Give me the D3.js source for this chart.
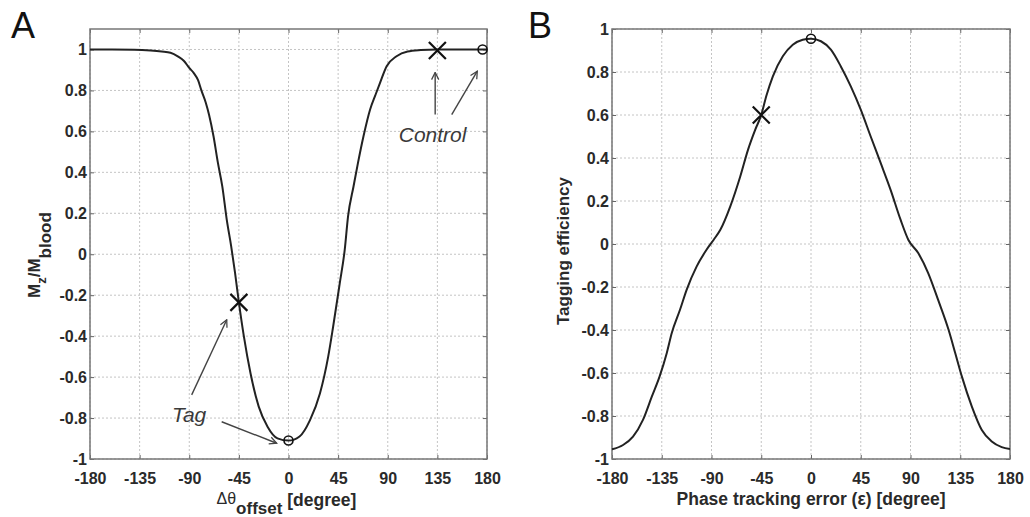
<!DOCTYPE html>
<html>
<head>
<meta charset="utf-8">
<script src="https://cdn.jsdelivr.net/npm/d3@7"></script>
<style>
  html, body { margin: 0; padding: 0; background: #fff; }
  svg { display: block; font-family: "Liberation Sans", Arial, sans-serif; }
</style>
</head>
<body>
<svg id="chart" width="1030" height="517"></svg>
<script>
// ---------- DATA ----------
// Panel A: longitudinal magnetisation vs phase offset
const offsetDeg = [-180,-160,-140,-125,-115,-107,-100,-95,-90,-86,-82,-79,-75,-72,-68,-64,-60,-56,-52,-48.5,-45,-40.5,-34.5,-27,-19,-10,0,10,19.5,28.5,36,40.5,46.5,51,54,59,63,68,74,79,83,89,98,108,120,135,150,165,180];
const mzRatio   = [1.0,1.0,0.999,0.995,0.99,0.984,0.965,0.945,0.91,0.886,0.85,0.80,0.74,0.68,0.576,0.446,0.33,0.169,0.04,-0.09,-0.235,-0.40,-0.58,-0.744,-0.842,-0.899,-0.91,-0.89,-0.81,-0.68,-0.50,-0.353,-0.141,0.022,0.185,0.332,0.446,0.576,0.707,0.78,0.837,0.918,0.967,0.99,0.997,1.0,1.0,1.0,1.0];
const markersA_x = [{x:-45, y:-0.235}, {x:135, y:0.995}];
const markersA_o = [{x:0, y:-0.91}, {x:176, y:1.0}];

// Panel B: tagging efficiency vs phase tracking error
const errorDeg   = [-180,-170,-161,-152,-144,-137,-130.5,-126,-118.5,-112.5,-103.5,-94.5,-88,-82,-73,-64,-57,-50.5,-45,-40.5,-34.5,-25.5,-16.5,-7.5,0,9,18,27,36,45,54,63,72,81,88,97,106,115,124.5,130.5,136.5,145.5,154.5,163.5,172.5,180];
const efficiency = [-0.955,-0.935,-0.896,-0.818,-0.71,-0.617,-0.508,-0.415,-0.306,-0.213,-0.105,-0.027,0.02,0.066,0.175,0.314,0.438,0.531,0.6,0.687,0.78,0.873,0.927,0.95,0.955,0.943,0.904,0.826,0.733,0.625,0.50,0.377,0.252,0.113,0.02,-0.042,-0.135,-0.26,-0.40,-0.508,-0.617,-0.756,-0.865,-0.919,-0.945,-0.953];
const markersB_x = [{x:-45, y:0.6}];
const markersB_o = [{x:0, y:0.955}];

// Tick labels
const xTicks = [-180,-135,-90,-45,0,45,90,135,180];
const yTicks = [-1,-0.8,-0.6,-0.4,-0.2,0,0.2,0.4,0.6,0.8,1];

// Annotations (panel A, data units)
const annotTexts = [{t:"Control", x:100, y:0.55}, {t:"Tag", x:-105.6, y:-0.82}];
const annotArrows = [
  {x1:133, y1:0.682, x2:133, y2:0.888},
  {x1:148, y1:0.682, x2:171.2, y2:0.894},
  {x1:-87.8, y1:-0.687, x2:-56, y2:-0.32},
  {x1:-60.6, y1:-0.818, x2:-10.7, y2:-0.923}
];

// ---------- DRAW ----------
const svg = d3.select("#chart");
const fmt = v => String(v);

svg.append("defs").append("marker")
  .attr("id","arrow").attr("viewBox","0 0 10 10").attr("refX",9).attr("refY",5)
  .attr("markerWidth",9).attr("markerHeight",9).attr("markerUnits","userSpaceOnUse")
  .attr("orient","auto")
  .append("path").attr("d","M1,1 L9,5 L1,9").attr("fill","none")
  .attr("stroke","#444").attr("stroke-width",1.4);

function panel(opts) {
  const x = d3.scaleLinear().domain([-180,180]).range([opts.left, opts.right]);
  const y = d3.scaleLinear().domain(opts.ydom).range([459, 29]);
  const g = svg.append("g");

  // grid
  g.append("g").selectAll("line.gx").data(xTicks).join("line")
    .attr("x1", d=>x(d)).attr("x2", d=>x(d)).attr("y1", y.range()[0]).attr("y2", y.range()[1])
    .attr("stroke","#c4c4c4").attr("stroke-width",1).attr("stroke-dasharray","2,2");
  g.append("g").selectAll("line.gy").data(yTicks).join("line")
    .attr("y1", d=>y(d)).attr("y2", d=>y(d)).attr("x1", x.range()[0]).attr("x2", x.range()[1])
    .attr("stroke","#c4c4c4").attr("stroke-width",1).attr("stroke-dasharray","2,2");

  // axes
  const style = sel => {
    sel.select(".domain").remove();
    sel.selectAll(".tick line").attr("stroke","#666").attr("stroke-width",1);
    sel.selectAll("text").attr("font-size",16).attr("font-weight","bold").attr("fill","#2a2a2a")
      .attr("font-family","Liberation Sans, Arial, sans-serif");
  };
  g.append("g").attr("transform",`translate(0,${y.range()[0]})`)
    .call(d3.axisBottom(x).tickValues(xTicks).tickFormat(fmt).tickSize(-4).tickPadding(13.5)).call(style);
  g.append("g").attr("transform",`translate(0,${y.range()[1]})`)
    .call(d3.axisTop(x).tickValues(xTicks).tickFormat("").tickSize(-4)).call(style);
  g.append("g").attr("transform",`translate(${x.range()[0]},0)`)
    .call(d3.axisLeft(y).tickValues(yTicks).tickFormat(fmt).tickSize(-4).tickPadding(3)).call(style);
  g.append("g").attr("transform",`translate(${x.range()[1]},0)`)
    .call(d3.axisRight(y).tickValues(yTicks).tickFormat("").tickSize(-4)).call(style);

  // frame
  g.append("rect").attr("x", x.range()[0]).attr("y", y.range()[1])
    .attr("width", x.range()[1]-x.range()[0]).attr("height", y.range()[0]-y.range()[1])
    .attr("fill","none").attr("stroke","#777").attr("stroke-width",1.5);

  // curve
  const pts = opts.xs.map((d,i)=>[d, opts.ys[i]]);
  g.append("path").datum(pts)
    .attr("d", d3.line().x(d=>x(d[0])).y(d=>y(d[1])).curve(d3.curveMonotoneX))
    .attr("fill","none").attr("stroke","#222").attr("stroke-width",2);

  // markers
  const s = 8.5;
  g.selectAll("path.mx").data(opts.mx).join("path")
    .attr("d", d=>`M${x(d.x)-s},${y(d.y)-s}L${x(d.x)+s},${y(d.y)+s}M${x(d.x)-s},${y(d.y)+s}L${x(d.x)+s},${y(d.y)-s}`)
    .attr("stroke","#111").attr("stroke-width",2.2).attr("fill","none");
  g.selectAll("circle.mo").data(opts.mo).join("circle")
    .attr("cx", d=>x(d.x)).attr("cy", d=>y(d.y)).attr("r",4.5)
    .attr("fill","none").attr("stroke","#111").attr("stroke-width",1.6);

  // panel letter
  svg.append("text").attr("x", opts.letterX).attr("y", 38).text(opts.letter)
    .attr("font-size",36).attr("fill","#111").attr("font-family","Liberation Sans, Arial, sans-serif");
  return {x, y, g};
}

const A = panel({left:90, right:487, ydom:[-1,1.1], xs:offsetDeg, ys:mzRatio, mx:markersA_x, mo:markersA_o, letter:"A", letterX:11});
const B = panel({left:612, right:1010, ydom:[-1,1], xs:errorDeg, ys:efficiency, mx:markersB_x, mo:markersB_o, letter:"B", letterX:528});

// annotations panel A
A.g.selectAll("line.arr").data(annotArrows).join("line")
  .attr("x1", d=>A.x(d.x1)).attr("y1", d=>A.y(d.y1)).attr("x2", d=>A.x(d.x2)).attr("y2", d=>A.y(d.y2))
  .attr("stroke","#444").attr("stroke-width",1.4).attr("marker-end","url(#arrow)");
A.g.selectAll("text.ann").data(annotTexts).join("text")
  .attr("x", d=>A.x(d.x)).attr("y", d=>A.y(d.y)).text(d=>d.t)
  .attr("font-size",21).attr("font-style","italic").attr("fill","#3a3a3a");

// axis titles
const cxA = A.x(0);
const tA = svg.append("text").attr("font-weight","bold").attr("fill","#2a2a2a");
tA.append("tspan").attr("x", cxA-72).attr("y",504).attr("font-size",16).attr("font-weight","normal").text("Δθ");
tA.append("tspan").attr("y",514).attr("font-size",17).text("offset");
tA.append("tspan").attr("y",506).attr("font-size",17.5).text(" [degree]");

const yA = svg.append("text").attr("transform","translate(40,298) rotate(-90)")
  .attr("font-weight","bold").attr("fill","#2a2a2a").attr("font-size",17);
yA.append("tspan").text("M");
yA.append("tspan").attr("dy",6).attr("font-size",13).text("z");
yA.append("tspan").attr("dy",-6).text("/M");
yA.append("tspan").attr("dy",11).text("blood");

svg.append("text").attr("x", B.x(0)).attr("y",505).attr("text-anchor","middle")
  .attr("font-size",17.5).attr("font-weight","bold").attr("fill","#2a2a2a")
  .text("Phase tracking error (ε) [degree]");
svg.append("text").attr("transform","translate(569,251) rotate(-90)").attr("text-anchor","middle")
  .attr("font-size",17).attr("font-weight","bold").attr("fill","#2a2a2a")
  .text("Tagging efficiency");
</script>
</body>
</html>
